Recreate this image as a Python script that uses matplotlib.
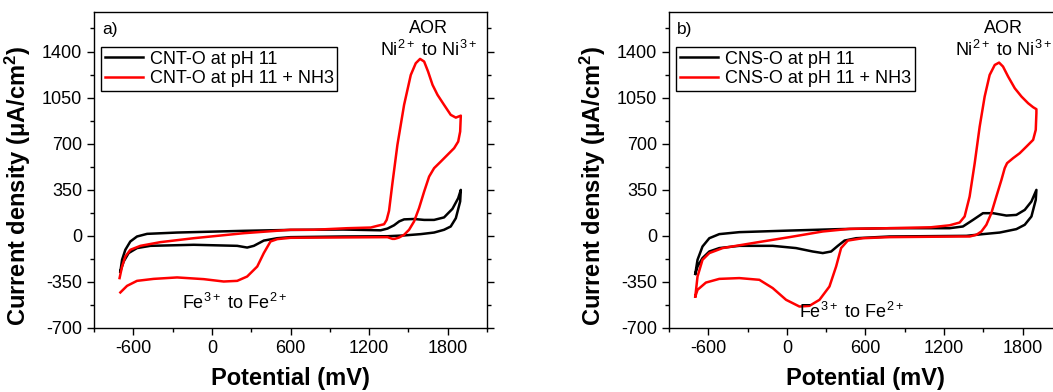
import matplotlib.pyplot as plt
from matplotlib.ticker import MultipleLocator

plt.rcParams['font.family'] = ['Liberation Sans', 'DejaVu Sans']
plt.rcParams['mathtext.fontset'] = 'custom'
plt.rcParams['mathtext.rm'] = 'Liberation Sans'
plt.rcParams['mathtext.default'] = 'regular'
plt.rcParams['axes.unicode_minus'] = False

# panel a) CNT-O, forward scan then return scan (mV, uA/cm2)
cnt_x = [-699, -686, -661, -623, -572, -495, -266, 243, 600, 1000, 1288, 1340, 1390, 1430, 1467,
         1543, 1620, 1696, 1772, 1836, 1880, 1900,
         1895, 1862, 1823, 1772, 1696, 1594, 1467, 1340, 1000, 600, 499, 396, 320, 269, 193,
         -139, -470, -572, -636, -674, -699]
cnt_y = [-271, -182, -106, -43, -5, 15, 25, 38, 45, 48, 42, 55, 80, 110, 125,
         128, 121, 121, 140, 205, 286, 349,
         261, 134, 71, 46, 25, 13, 3, -3, -5, -10, -18, -36, -76, -89, -76,
         -68, -76, -93, -131, -195, -271]

cnt_nh3_x = [-705, -686, -661, -623, -546, -394, -139, 243, 600, 778, 1034, 1212, 1263, 1314, 1334,
             1352, 1378, 1416, 1467, 1518, 1556, 1589, 1620, 1650, 1684, 1722, 1772, 1823, 1862, 1900,
             1895, 1880, 1849, 1798, 1747, 1696, 1658, 1620, 1581, 1543, 1505, 1467, 1428, 1395,
             1378, 1340, 1034, 600, 499, 447, 396, 346, 269, 193, 90, -62, -266, -445, -572, -648, -699]
cnt_nh3_y = [-321, -233, -157, -106, -76, -48, -18, 20, 46, 46, 58, 63, 76, 88, 121,
             190, 400, 691, 995, 1222, 1311, 1344, 1324, 1248, 1147, 1071, 995, 919, 898, 913,
             792, 716, 666, 615, 564, 514, 450, 336, 210, 109, 46, 8, -13, -23,
             -23, -10, -12, -15, -25, -43, -131, -233, -309, -342, -347, -329, -316, -327, -342, -380, -430]

# panel b) CNS-O
cns_x = [-699, -682, -644, -592, -516, -363, 19, 402, 784, 1242, 1344, 1421, 1497, 1574, 1676,
         1752, 1816, 1867, 1905,
         1900, 1867, 1816, 1752, 1625, 1497, 1370, 784, 529, 440, 389, 338, 274, 197, 70,
         -108, -363, -516, -592, -644, -682, -699]
cns_y = [-289, -182, -81, -18, 13, 28, 40, 51, 58, 58, 71, 121, 172, 172, 154,
         159, 197, 261, 349,
         273, 147, 84, 51, 25, 13, 0, -5, -18, -36, -76, -119, -131, -119, -93,
         -76, -76, -93, -119, -169, -233, -289]

cns_nh3_x = [-699, -682, -644, -592, -490, -236, 19, 274, 478, 784, 1100, 1242, 1319, 1357, 1395,
             1434, 1472, 1510, 1548, 1587, 1620, 1650, 1689, 1740, 1791, 1842, 1880, 1905,
             1905, 1900, 1880, 1829, 1778, 1727, 1681, 1663, 1638, 1599, 1561, 1523, 1485, 1447,
             1396, 1319, 784, 580, 465, 414, 376, 325, 249, 172, 96, -6, -108, -210, -363, -516,
             -618, -682, -699]
cns_nh3_y = [-461, -309, -182, -131, -93, -51, -10, 33, 53, 58, 65, 80, 101, 147, 298,
             552, 830, 1058, 1222, 1298, 1316, 1286, 1210, 1121, 1058, 1007, 977, 962,
             932, 805, 729, 678, 628, 590, 552, 514, 425, 298, 172, 84, 33, 8,
             -5, -5, -10, -18, -36, -93, -233, -385, -486, -532, -537, -486, -397, -334, -321, -327,
             -355, -410, -461]

panels = [
    ('a)', 'CNT-O at pH 11', 'CNT-O at pH 11 + NH3', cnt_x, cnt_y, cnt_nh3_x, cnt_nh3_y),
    ('b)', 'CNS-O at pH 11', 'CNS-O at pH 11 + NH3', cns_x, cns_y, cns_nh3_x, cns_nh3_y),
]
fe_label_x = [172, 493]   # Fe annotation position per panel (mV)
fe_label_y = [-509, -577]

fig = plt.figure(figsize=(10.53, 3.92), dpi=100)
lefts = [0.0893, 0.6353]

for i, (tag, lab1, lab2, x1, y1, x2, y2) in enumerate(panels):
    ax = fig.add_axes([lefts[i], 0.1633, 0.3732, 0.806])
    ax.plot(x1, y1, color='black', lw=1.8, label=lab1, solid_joinstyle='round')
    ax.plot(x2, y2, color='#ff0000', lw=1.8, label=lab2, solid_joinstyle='round')

    ax.set_xlim(-900, 2100)
    ax.set_ylim(-700, 1700)
    ax.xaxis.set_major_locator(MultipleLocator(600))
    ax.xaxis.set_minor_locator(MultipleLocator(300))
    ax.yaxis.set_major_locator(MultipleLocator(350))
    ax.yaxis.set_minor_locator(MultipleLocator(175))
    ax.tick_params(which='both', direction='out', labelsize=13, width=1, right=True)
    ax.tick_params(which='major', length=5)
    ax.tick_params(which='minor', length=3)
    for s in ax.spines.values():
        s.set_linewidth(1)

    ax.set_xlabel('Potential (mV)', fontsize=17, fontweight='bold')
    ax.set_ylabel('Current density (μA/cm$^{2}$)', fontsize=17, fontweight='bold')
    ax.xaxis.set_label_coords(0.5, -0.125)
    ax.yaxis.set_label_coords(-0.155, 0.45)

    ax.text(0.02, 0.945, tag, transform=ax.transAxes, fontsize=12.5, va='center', ha='left')
    ax.text(1655, 1572, 'AOR', fontsize=13, ha='center', va='center')
    ax.text(1655, 1410, 'Ni$^{2+}$ to Ni$^{3+}$', fontsize=13, ha='center', va='center')
    ax.text(fe_label_x[i], fe_label_y[i], 'Fe$^{3+}$ to Fe$^{2+}$', fontsize=13, ha='center', va='center')

    leg = ax.legend(loc='upper left', bbox_to_anchor=(0.018, 0.889), borderaxespad=0,
                    fontsize=13, fancybox=False, framealpha=1, edgecolor='black',
                    handlelength=2.1, handletextpad=0.4, labelspacing=0.15, borderpad=0.2)
    leg.get_frame().set_linewidth(1)

fig.savefig('out.png', dpi=100)
